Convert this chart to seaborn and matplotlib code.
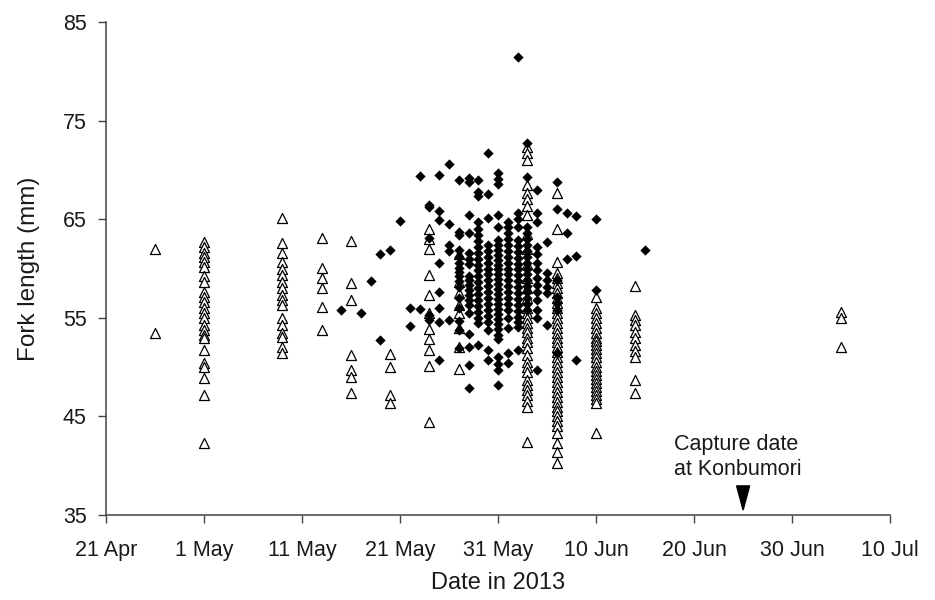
import numpy as np
import pandas as pd
import matplotlib
matplotlib.use("Agg")
import matplotlib.pyplot as plt
from matplotlib.patches import Polygon
import seaborn as sns

# ---------------- data ----------------
start_date = "2013-04-21"
tick_dates = ["2013-04-21", "2013-05-01", "2013-05-11", "2013-05-21", "2013-05-31",
              "2013-06-10", "2013-06-20", "2013-06-30", "2013-07-10"]
tick_labels = ["21 Apr", "1 May", "11 May", "21 May", "31 May",
               "10 Jun", "20 Jun", "30 Jun", "10 Jul"]
capture_date = "2013-06-25"
capture_label = "Capture date\nat Konbumori"

# open triangles (one list of fork lengths per sampling date)
tri_dates = ["2013-04-26", "2013-05-01", "2013-05-09", "2013-05-13", "2013-05-16",
             "2013-05-20", "2013-05-24", "2013-05-27", "2013-06-03", "2013-06-06",
             "2013-06-10", "2013-06-14", "2013-07-05"]
tri_values = [
    [62.0, 53.5],
    [62.7, 62.2, 61.6, 61.2, 60.7, 60.2, 59.2, 58.6, 57.6, 57.1, 56.6, 56.0, 55.5,
     55.0, 54.3, 53.8, 53.3, 53.0, 51.7, 50.4, 50.0, 48.9, 47.2, 42.3],
    [65.1, 62.6, 61.6, 60.7, 59.9, 59.3, 58.6, 58.0, 57.3, 56.8, 56.3, 55.0, 54.3,
     53.5, 53.1, 52.0, 51.4],
    [63.1, 60.1, 59.0, 58.0, 56.1, 53.8],
    [62.8, 58.5, 56.8, 51.2, 49.7, 49.0, 47.4],
    [51.3, 50.0, 47.2, 46.4],
    [64.0, 63.0, 62.0, 59.3, 57.3, 55.5, 53.9, 52.8, 51.7, 50.1, 44.4],
    [61.5, 58.6, 57.5, 56.3, 55.5, 54.0, 52.0, 49.8],
    [72.3, 71.7, 71.0, 68.5, 67.7, 67.0, 66.3, 65.4, 63.5, 62.0, 60.5, 59.0, 58.0,
     57.0, 56.0, 55.5, 55.0, 54.5, 54.0, 53.6, 53.0, 52.5, 51.9, 51.2, 50.5, 50.0,
     49.5, 48.7, 48.2, 47.7, 47.2, 46.6, 46.0, 42.4],
    [67.7, 64.0, 60.7, 59.5, 59.0, 58.5, 58.0, 57.5, 57.0, 56.5, 56.0, 55.5, 55.0,
     54.5, 54.0, 53.5, 53.0, 52.5, 52.0, 51.5, 51.0, 50.5, 50.0, 49.5, 49.0, 48.5,
     48.0, 47.5, 47.0, 46.5, 46.0, 45.5, 45.0, 44.5, 44.0, 43.3, 42.3, 41.4, 40.3],
    [57.1, 56.0, 55.5, 55.0, 54.5, 54.0, 53.5, 53.0, 52.6, 52.2, 51.8, 51.4, 51.0,
     50.5, 50.0, 49.6, 49.2, 48.8, 48.4, 48.0, 47.6, 47.2, 46.8, 46.4, 43.3],
    [58.2, 55.3, 54.8, 54.3, 53.6, 53.0, 52.2, 51.6, 51.0, 48.7, 47.4],
    [55.6, 55.0, 52.0],
]

# filled diamonds (one list of fork lengths per date)
dia_dates = ["2013-05-15", "2013-05-17", "2013-05-18", "2013-05-19", "2013-05-20",
             "2013-05-21", "2013-05-22", "2013-05-23", "2013-05-24", "2013-05-25",
             "2013-05-26", "2013-05-27", "2013-05-28", "2013-05-29", "2013-05-30",
             "2013-05-31", "2013-06-01", "2013-06-02", "2013-06-03", "2013-06-04",
             "2013-06-05", "2013-06-06", "2013-06-07", "2013-06-08", "2013-06-10",
             "2013-06-15"]
dia_values = [
    [55.8],
    [55.5],
    [58.7],
    [61.5, 52.7],
    [61.9],
    [64.8],
    [56.0, 54.2],
    [69.4, 55.9],
    [66.4, 66.2, 63.1, 55.3, 54.8],
    [69.5, 65.8, 64.9, 60.6, 57.6, 56.0, 54.6, 50.7],
    [70.6, 64.5, 62.4, 61.8, 54.8],
    [69.0, 63.7, 63.4, 61.9, 61.2, 60.6, 60.1, 59.6, 59.2, 58.7, 58.1, 57.0, 56.0,
     54.7, 53.8, 51.9],
    [69.2, 68.8, 65.4, 63.6, 61.6, 61.0, 60.5, 59.2, 58.8, 58.3, 57.8, 57.3, 56.8,
     56.3, 55.5, 53.4, 52.0, 50.2, 47.9],
    [69.0, 67.8, 67.4, 64.7, 64.0, 63.4, 62.8, 62.2, 61.6, 61.0, 60.4, 59.8, 59.2,
     58.6, 58.0, 57.4, 56.8, 56.2, 55.6, 55.0, 54.5, 52.2],
    [71.7, 67.6, 65.1, 62.4, 61.8, 61.2, 60.6, 60.0, 59.4, 58.8, 58.2, 57.6, 57.0,
     56.4, 55.8, 55.2, 54.6, 53.8, 51.7, 50.7],
    [69.7, 69.1, 68.6, 65.4, 64.2, 62.9, 62.4, 61.9, 61.4, 60.9, 60.4, 59.9, 59.4,
     58.9, 58.4, 57.9, 57.4, 56.9, 56.4, 55.9, 55.4, 54.9, 54.4, 53.9, 53.3, 52.8,
     51.0, 50.3, 49.7, 48.2],
    [64.7, 64.2, 63.6, 63.0, 62.4, 61.8, 61.2, 60.6, 60.0, 59.4, 58.8, 58.2, 57.6,
     57.0, 56.4, 55.8, 55.0, 54.0, 51.4, 50.4],
    [81.5, 65.6, 65.0, 64.2, 62.9, 62.3, 61.7, 61.1, 60.5, 59.9, 59.3, 58.7, 58.1,
     57.5, 56.9, 56.3, 55.7, 55.1, 54.6, 54.1, 51.7],
    [72.7, 69.3, 64.2, 63.6, 63.0, 62.4, 61.8, 61.2, 60.6, 60.0, 59.4, 58.8, 58.2,
     57.6, 57.0, 56.4, 55.8],
    [68.0, 65.6, 64.7, 62.2, 61.5, 60.6, 59.8, 59.0, 58.3, 57.6, 56.8, 55.8, 55.0, 49.7],
    [62.7, 59.5, 58.8, 58.1, 57.5, 54.3],
    [68.8, 66.0, 58.8, 57.1, 56.5, 55.8, 51.4],
    [65.6, 63.6, 61.0],
    [65.3, 61.3, 50.7],
    [65.0, 57.8],
    [61.9],
]

# ---------------- build tables ----------------
t0 = pd.Timestamp(start_date)


def to_day(d):
    return (pd.Timestamp(d) - t0).days


tri_df = pd.DataFrame(
    [(to_day(d), v) for d, vals in zip(tri_dates, tri_values) for v in vals],
    columns=["day", "fork_length"])
dia_df = pd.DataFrame(
    [(to_day(d), v) for d, vals in zip(dia_dates, dia_values) for v in vals],
    columns=["day", "fork_length"])

# ---------------- figure ----------------
sns.set_theme(style="white")
plt.rcParams["font.family"] = ["Liberation Sans", "DejaVu Sans"]

fig = plt.figure(figsize=(9.35, 6.0), dpi=100)
ax = fig.add_axes([0.1134, 0.1417, 0.952 - 0.1134, 0.9633 - 0.1417])

sns.scatterplot(data=tri_df, x="day", y="fork_length", marker="^", s=52,
                facecolor="white", edgecolor="black", linewidth=0.9,
                ax=ax, zorder=2)
sns.scatterplot(data=dia_df, x="day", y="fork_length", marker="D", s=24,
                color="black", edgecolor="black", linewidth=0.3,
                ax=ax, zorder=3)

ax.set_xlim(0, to_day(tick_dates[-1]))
ax.set_ylim(35, 85)
ax.set_xticks([to_day(d) for d in tick_dates])
ax.set_xticklabels(tick_labels)
ax.set_yticks([35, 45, 55, 65, 75, 85])

for s in ["top", "right"]:
    ax.spines[s].set_visible(False)
for s in ["left", "bottom"]:
    ax.spines[s].set_color("#444444")
    ax.spines[s].set_linewidth(1.1)

ax.tick_params(axis="both", which="major", direction="out", length=6, width=1.0,
               color="#444444", labelsize=15.5, labelcolor="#1a1a1a",
               left=True, bottom=True)
ax.tick_params(axis="x", pad=12)
ax.tick_params(axis="y", pad=8)

ax.set_xlabel("Date in 2013", fontsize=17, color="#1a1a1a", labelpad=8)
ax.set_ylabel("Fork length (mm)", fontsize=17.5, color="#1a1a1a", labelpad=16)

# capture-date marker
cd = to_day(capture_date)
ax.add_patch(Polygon([(cd - 0.66, 37.95), (cd + 0.66, 37.95), (cd, 35.5)],
                     closed=True, facecolor="black", edgecolor="black",
                     clip_on=False, zorder=4))
ax.text(cd - 7.1, 38.5, capture_label, ha="left", va="bottom",
        fontsize=15.5, color="#1a1a1a", linespacing=1.3)

fig.savefig("out.png", dpi=100, facecolor="white")
